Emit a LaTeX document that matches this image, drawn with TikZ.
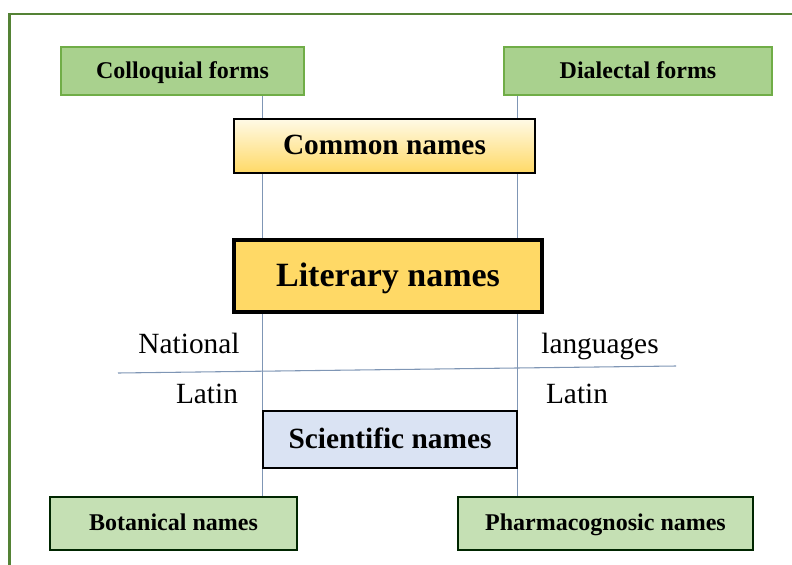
\documentclass[tikz,border=0pt]{standalone}
\usepackage{fontspec}
\setmainfont{Liberation Serif}
\usetikzlibrary{backgrounds}

\definecolor{framegreen}{HTML}{548235}
\definecolor{formfill}{HTML}{A9D18E}
\definecolor{formedge}{HTML}{70AD47}
\definecolor{leaffill}{HTML}{C5E0B4}
\definecolor{goldfill}{HTML}{FFD966}
\definecolor{palegold}{HTML}{FFFAE6}
\definecolor{scifill}{HTML}{DAE3F3}
\definecolor{linkblue}{HTML}{7F96B5}

\tikzset{
  smalltext/.style={font=\fontsize{18}{20}\selectfont\bfseries, text height=13.5pt, text depth=2.7pt},
  midtext/.style={font=\fontsize{22}{24}\selectfont, text height=16.5pt, text depth=3.3pt},
  midbold/.style={font=\fontsize{22}{24}\selectfont\bfseries, text height=16.5pt, text depth=3.3pt},
  bigtext/.style={font=\fontsize{25.5}{28}\selectfont\bfseries, text height=19.1pt, text depth=3.8pt},
  formbox/.style={smalltext, draw=formedge, line width=1.2pt, fill=formfill, inner sep=0pt},
  leafbox/.style={smalltext, draw=black!85!green, line width=1.5pt, fill=leaffill, inner sep=0pt},
  link/.style={draw=linkblue, line width=0.8pt},
  langlabel/.style={midtext, inner sep=0pt}
}

\begin{document}
\begin{tikzpicture}[x=0.75pt, y=-0.75pt]
    \useasboundingbox (0,0) rectangle (792,564);
    \begin{scope}
      \clip (0,0) rectangle (792,564);
      \draw[framegreen, line width=2.2pt] (9.5,600) -- (9.5,14) -- (830,14);
    \end{scope}

    % top forms
    \node[formbox, minimum width=182.25pt, minimum height=36pt] (coll) at (182.5,71) {Colloquial forms};
    \node[formbox, minimum width=201pt, minimum height=36pt] (dial) at (638,71) {Dialectal forms};

    % central names
    \node[midbold, draw, line width=1.5pt, top color=palegold, bottom color=goldfill, inner sep=0pt,
      minimum width=225.75pt, minimum height=40.5pt]
      (common) at (384.5,146) {Common names};
    \node[bigtext, draw, line width=3pt, fill=goldfill, inner sep=0pt,
      minimum width=231pt, minimum height=54pt]
      (lit) at (388,276) {Literary names};
    \node[midbold, draw, line width=1.2pt, fill=scifill, inner sep=0pt,
      minimum width=190.5pt, minimum height=42.75pt]
      (sci) at (390,439.5) {Scientific names};

    % bottom names
    \node[leafbox, minimum width=185.25pt, minimum height=39.75pt] (bot) at (173.5,523.5) {Botanical names};
    \node[leafbox, minimum width=221.25pt, minimum height=39.75pt] (pharm) at (605.5,523.5) {Pharmacognosic names};

    % language labels
    \node[langlabel] (nat) at (189,345) {National};
    \node[langlabel] (lang) at (600,345) {languages};
    \node[langlabel] (latl) at (207,395) {Latin};
    \node[langlabel] (latr) at (577,395) {Latin};

    \coordinate (divl) at (118,373);
    \coordinate (divr) at (676,366);

    \begin{pgfonlayer}{background}
      \draw[link] (coll.south -| sci.west) -- (bot.north -| sci.west);
      \draw[link] (dial.south -| sci.east) -- (pharm.north -| sci.east);
      \draw[link] (divl) -- (divr);
    \end{pgfonlayer}
  \end{tikzpicture}
\end{document}
